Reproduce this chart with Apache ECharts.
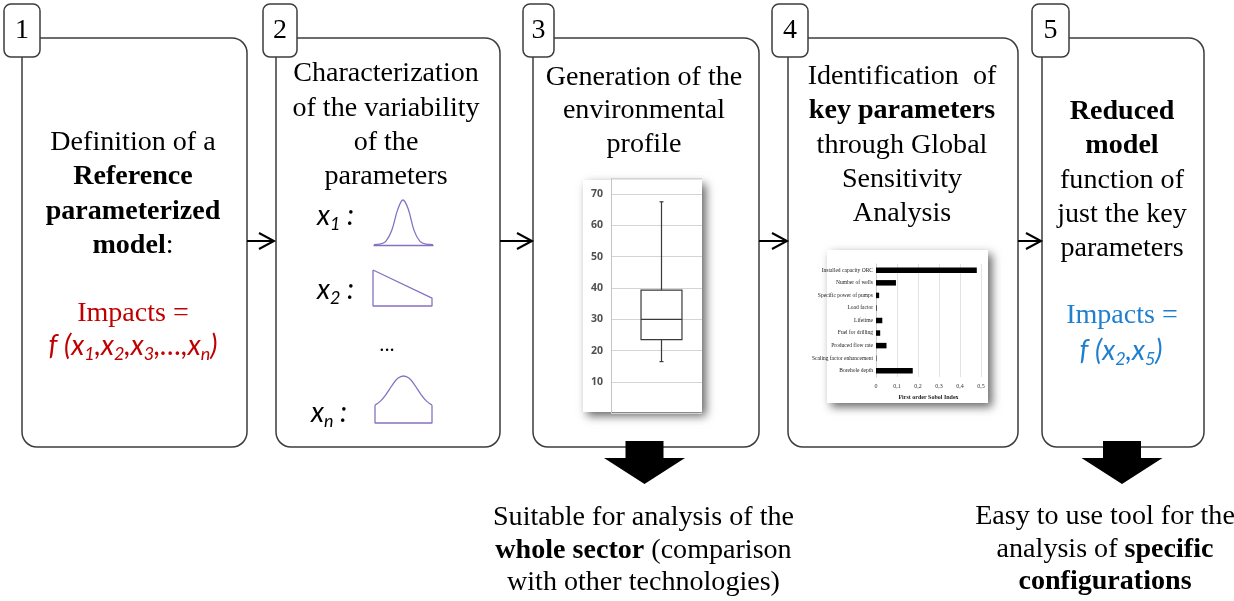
<!DOCTYPE html>
<html><head><meta charset="utf-8">
<script src="https://cdn.jsdelivr.net/npm/echarts@6/dist/echarts.min.js"></script>
<style>html,body{margin:0;padding:0;background:#fff}#c{width:1234px;height:601px}</style>
</head><body><div id="c"></div>
<script>
// ---------------- data ----------------
const stepNumbers = ['1', '2', '3', '4', '5'];
const profileCategory = ['Impacts'];
const profileStats = [[16.5, 23.5, 30, 39.3, 67.5]]; // min, Q1, median, Q3, max
const profileTicks = ['10', '20', '30', '40', '50', '60', '70'];
const sensitivityParams = ['Installed capacity ORC', 'Number of wells', 'Specific power of pumps', 'Load factor', 'Lifetime', 'Fuel for drilling', 'Produced flow rate', 'Scaling factor enhancement', 'Borehole depth'];
const sobolIndex = [0.48, 0.095, 0.015, 0.003, 0.03, 0.02, 0.05, 0.002, 0.175];
const sobolTicks = ['0', '0,1', '0,2', '0,3', '0,4', '0,5'];
const x1Shape = [[0, 0.01], [0.1, 0.02], [0.2, 0.08], [0.3, 0.32], [0.4, 0.78], [0.49, 1], [0.58, 0.8], [0.68, 0.32], [0.78, 0.08], [0.88, 0.02], [1, 0.01]];
const x2Shape = [[0, 1], [1, 0.22], [1, 0], [0, 0], [0, 1]];
const xnCurve = [[0, 0.38], [0.1, 0.47], [0.2, 0.62], [0.3, 0.8], [0.4, 0.95], [0.5, 1], [0.6, 0.95], [0.7, 0.8], [0.8, 0.62], [0.9, 0.47], [1, 0.38]];
const xnBase = [[0, 0.38], [0, 0], [1, 0], [1, 0.38]];

// ---------------- helpers ----------------
const chart = echarts.init(document.getElementById('c'), null, {renderer: 'canvas'});
const SERIF = '"Liberation Serif", "Times New Roman", serif';
const SANS = 'Lato, "Open Sans", "Liberation Sans", sans-serif';
const PURPLE = '#8672c2';
const RED = '#c00000';
const BLUE = '#1f7fcf';
const FS = 27, LH = 34.3, SX = 1.04;

function txt(cx, top, text, extra, sx) {
  return {
    type: 'group', x: cx, y: top, scaleX: sx || SX, z: 20,
    children: [{
      type: 'text', z: 20, silent: true,
      style: Object.assign({
        text: text, x: 0, y: 0, align: 'center', verticalAlign: 'top',
        fontFamily: SERIF, fontSize: FS, lineHeight: LH, fill: '#000',
        rich: {b: {fontFamily: SERIF, fontWeight: 'bold', fontSize: FS, lineHeight: LH}}
      }, extra || {})
    }]
  };
}
function mathRich(color) {
  return {
    i: {fontFamily: SANS, fontStyle: 'italic', fontSize: 28, lineHeight: 34, fill: color},
    s: {fontFamily: SANS, fontStyle: 'italic', fontSize: 18, lineHeight: 16, verticalAlign: 'bottom', fill: color}
  };
}
function mathTxt(cx, top, text, color, align) {
  return {
    type: 'group', x: cx, y: top, z: 20,
    children: [{type: 'text', z: 20, silent: true,
      style: {text: text, x: 0, y: 0, align: align || 'center', verticalAlign: 'top', fontFamily: SANS, fontStyle: 'italic', fontSize: 28, lineHeight: 34, fill: color, rich: mathRich(color)}}]
  };
}

const boxes = [
  {x: 22, r: 247, bx: 4, bw: 36},
  {x: 276, r: 500, bx: 263, bw: 34},
  {x: 533, r: 759, bx: 523, bw: 31},
  {x: 788, r: 1018, bx: 772, bw: 36},
  {x: 1042, r: 1204, bx: 1032, bw: 37}
];
const graphics = [];
boxes.forEach(function (b, i) {
  graphics.push({type: 'rect', z: 1, silent: true, shape: {x: b.x, y: 38, width: b.r - b.x, height: 409, r: 15},
    style: {fill: 'none', stroke: '#3c3c3c', lineWidth: 1.5}});
  graphics.push({type: 'rect', z: 2, silent: true, shape: {x: b.bx, y: 4, width: b.bw, height: 53, r: 7},
    style: {fill: '#fff', stroke: '#3c3c3c', lineWidth: 1.5}});
  graphics.push({type: 'text', z: 20, silent: true,
    style: {text: stepNumbers[i], x: b.bx + b.bw / 2, y: 31, align: 'center', verticalAlign: 'middle', fontFamily: SERIF, fontSize: 28, fill: '#000'}});
});
// connectors between steps
[[247, 274], [500, 532], [759, 787], [1018, 1041]].forEach(function (c) {
  graphics.push({type: 'line', z: 3, silent: true, shape: {x1: c[0], y1: 241, x2: c[1], y2: 241}, style: {stroke: '#000', lineWidth: 2}});
  graphics.push({type: 'polyline', z: 3, silent: true, shape: {points: [[c[1] - 15, 233], [c[1], 241], [c[1] - 15, 249]]}, style: {stroke: '#000', lineWidth: 2, fill: 'none'}});
});
// down arrows
[644.5, 1122].forEach(function (cx) {
  graphics.push({type: 'polygon', z: 3, silent: true,
    shape: {points: [[cx - 19, 441], [cx + 19, 441], [cx + 19, 458], [cx + 40.5, 458], [cx, 484], [cx - 40.5, 458], [cx - 19, 458]]},
    style: {fill: '#000'}});
});
// mini chart panels with shadow
graphics.push({type: 'rect', z: 1, silent: true, shape: {x: 583, y: 180, width: 119, height: 232},
  style: {fill: '#fff', shadowColor: 'rgba(0,0,0,0.6)', shadowBlur: 9, shadowOffsetX: 4, shadowOffsetY: 4}});
graphics.push({type: 'rect', z: 1, silent: true, shape: {x: 827, y: 250, width: 161, height: 153},
  style: {fill: '#fff', shadowColor: 'rgba(0,0,0,0.6)', shadowBlur: 9, shadowOffsetX: 4, shadowOffsetY: 4}});

// texts
const BOTTOM_RICH = {b: {fontFamily: SERIF, fontWeight: 'bold', fontSize: FS, lineHeight: 32.5}};
graphics.push(txt(133, 126, 'Definition of a\n{b|Reference}\n{b|parameterized}\n{b|model}:'));
graphics.push(txt(133, 297, 'Impacts =', {fill: RED}));
graphics.push(mathTxt(133, 329, '{i|f (x}{s|1}{i|,x}{s|2}{i|,x}{s|3}{i|,…,x}{s|n}{i|)}', RED));
graphics.push(txt(386, 57, 'Characterization\nof the variability\nof the\nparameters'));
graphics.push(mathTxt(317, 199, '{i|x}{s|1}{i| :}', '#000', 'left'));
graphics.push(mathTxt(317, 273, '{i|x}{s|2}{i| :}', '#000', 'left'));
graphics.push(mathTxt(311, 396, '{i|x}{s|n}{i| :}', '#000', 'left'));
graphics.push(txt(387, 329, '...', {fontSize: 20}));
graphics.push(txt(644, 61, 'Generation of the\nenvironmental\nprofile', {lineHeight: 33.5}));
graphics.push(txt(902, 60, 'Identification  of\n{b|key parameters}\nthrough Global\nSensitivity\nAnalysis'));
graphics.push(txt(1122, 95, '{b|Reduced}\n{b|model}\nfunction of\njust the key\nparameters'));
graphics.push(txt(1122, 299, 'Impacts =', {fill: BLUE}));
graphics.push(mathTxt(1121, 334, '{i|f (x}{s|2}{i|,x}{s|5}{i|)}', BLUE));
graphics.push(txt(643.5, 502, 'Suitable for analysis of the\n{b|whole sector} (comparison\nwith other technologies)', {lineHeight: 32.5, rich: BOTTOM_RICH}));
graphics.push(txt(1105, 501, 'Easy to use tool for the\nanalysis of {b|specific}\n{b|configurations}', {lineHeight: 32.5, rich: BOTTOM_RICH}));

function hiddenValueAxis(idx, extra) {
  return Object.assign({type: 'value', gridIndex: idx, min: 0, max: 1, show: false, z: 3}, extra || {});
}

const option = {
  backgroundColor: '#fff',
  animation: false,
  graphic: {elements: graphics},
  grid: [
    {left: 611, top: 178.3, width: 91, height: 235},
    {left: 876, top: 264, width: 105, height: 113},
    {left: 374, top: 200, width: 59, height: 45},
    {left: 373, top: 270, width: 59, height: 36},
    {left: 375, top: 376, width: 57, height: 47}
  ],
  xAxis: [
    {type: 'category', gridIndex: 0, data: profileCategory, show: false},
    {type: 'value', gridIndex: 1, min: 0, max: 0.5, interval: 0.1, z: 3,
      axisLine: {show: false}, axisTick: {show: false},
      splitLine: {lineStyle: {color: '#dcdcdc', width: 0.8}},
      axisLabel: {fontFamily: SERIF, fontSize: 6, color: '#333', margin: 6,
        formatter: function (v) { return sobolTicks[Math.round(v * 10)]; }},
      name: 'First order Sobol Index', nameLocation: 'middle', nameGap: 17,
      nameTextStyle: {fontFamily: SERIF, fontSize: 6, color: '#222', fontWeight: 'bold'}},
    hiddenValueAxis(2, {show: true, axisLine: {show: true, lineStyle: {color: PURPLE, width: 1.3}}, axisTick: {show: false}, axisLabel: {show: false}, splitLine: {show: false}}),
    hiddenValueAxis(3),
    hiddenValueAxis(4)
  ],
  yAxis: [
    {type: 'value', gridIndex: 0, min: 0, max: 75, interval: 10, z: 3,
      axisLine: {show: true, lineStyle: {color: '#c4c4c4', width: 1}},
      axisTick: {show: false},
      splitLine: {lineStyle: {color: '#d4d4d4', width: 1}},
      axisLabel: {fontFamily: '"Open Sans", sans-serif', fontWeight: 'bold', fontSize: 10.5, color: '#505050', margin: 8,
        formatter: function (v) { const s = String(v); return profileTicks.indexOf(s) >= 0 ? s : ''; }}},
    {type: 'category', gridIndex: 1, data: sensitivityParams, inverse: true, z: 3,
      axisLine: {show: true, lineStyle: {color: '#c8c8c8', width: 0.8}}, axisTick: {show: false},
      axisLabel: {fontFamily: SERIF, fontSize: 5.5, color: '#222', margin: 3}},
    hiddenValueAxis(2),
    hiddenValueAxis(3),
    hiddenValueAxis(4)
  ],
  series: [
    {type: 'custom', xAxisIndex: 0, yAxisIndex: 0, z: 4, silent: true,
      data: profileStats.map(function (s, i) { return [i].concat(s); }),
      encode: {x: 0, y: [1, 2, 3, 4, 5]},
      renderItem: function (params, api) {
        const xi = api.value(0);
        const pMin = api.coord([xi, api.value(1)]);
        const pQ1 = api.coord([xi, api.value(2)]);
        const pMed = api.coord([xi, api.value(3)]);
        const pQ3 = api.coord([xi, api.value(4)]);
        const pMax = api.coord([xi, api.value(5)]);
        const half = api.size([1, 0])[0] * 0.225;
        const cap = 2;
        const cx = pMin[0] + 5;
        const st = {stroke: '#3a3a3a', lineWidth: 1.2, fill: 'none'};
        return {type: 'group', children: [
          {type: 'line', shape: {x1: cx, y1: pMax[1], x2: cx, y2: pQ3[1]}, style: st},
          {type: 'line', shape: {x1: cx, y1: pQ1[1], x2: cx, y2: pMin[1]}, style: st},
          {type: 'line', shape: {x1: cx - cap, y1: pMax[1], x2: cx + cap, y2: pMax[1]}, style: st},
          {type: 'line', shape: {x1: cx - cap, y1: pMin[1], x2: cx + cap, y2: pMin[1]}, style: st},
          {type: 'rect', shape: {x: cx - half, y: pQ3[1], width: 2 * half, height: pQ1[1] - pQ3[1]}, style: {stroke: '#3a3a3a', lineWidth: 1.2, fill: '#fff'}},
          {type: 'line', shape: {x1: cx - half, y1: pMed[1], x2: cx + half, y2: pMed[1]}, style: st}
        ]};
      }},
    {type: 'bar', xAxisIndex: 1, yAxisIndex: 1, z: 4, silent: true, data: sobolIndex, barWidth: 5.5, itemStyle: {color: '#000'}},
    {type: 'line', xAxisIndex: 2, yAxisIndex: 2, z: 4, silent: true, data: x1Shape, smooth: 0.35, symbol: 'none', clip: false, lineStyle: {color: PURPLE, width: 1.3}},
    {type: 'line', xAxisIndex: 3, yAxisIndex: 3, z: 4, silent: true, data: x2Shape, symbol: 'none', clip: false, lineStyle: {color: PURPLE, width: 1.3}},
    {type: 'line', xAxisIndex: 4, yAxisIndex: 4, z: 4, silent: true, data: xnCurve, smooth: 0.4, symbol: 'none', clip: false, lineStyle: {color: PURPLE, width: 1.3}},
    {type: 'line', xAxisIndex: 4, yAxisIndex: 4, z: 4, silent: true, data: xnBase, symbol: 'none', clip: false, lineStyle: {color: PURPLE, width: 1.3}}
  ]
};
chart.setOption(option);
</script>
</body></html>
